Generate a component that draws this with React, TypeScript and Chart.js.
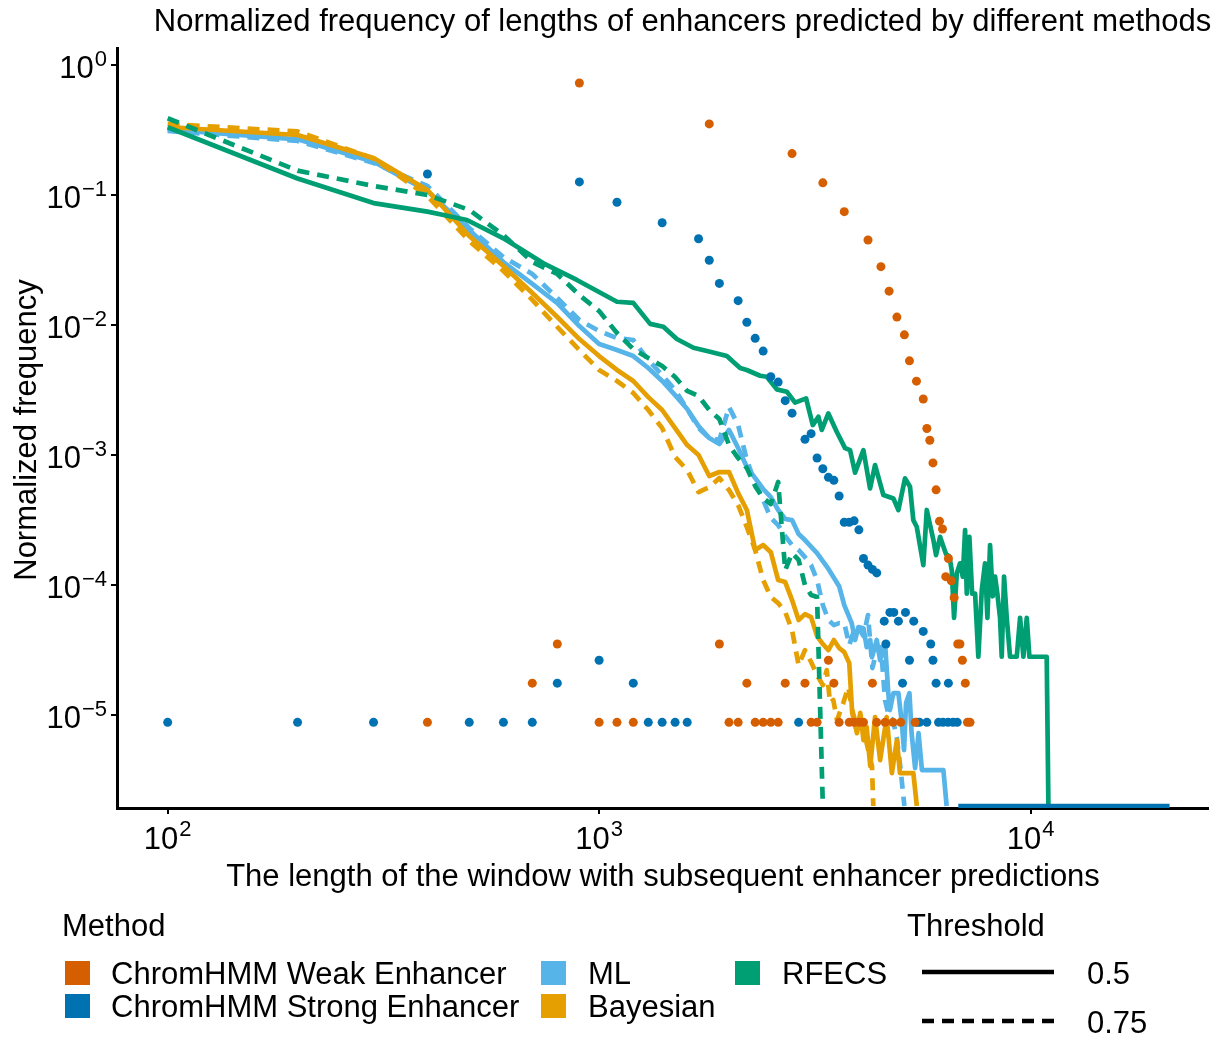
import React, { useEffect, useRef } from "react";
import { Chart, registerables } from "chart.js";

Chart.register(...registerables);

type P = [number, number];

const TITLE = "Normalized frequency of lengths of enhancers predicted by different methods";
const X_TITLE = "The length of the window with subsequent enhancer predictions";
const Y_TITLE = "Normalized frequency";
const LEGEND_METHOD_TITLE = "Method";
const LEGEND_THRESHOLD_TITLE = "Threshold";
const METHOD_LABELS = ["ChromHMM Weak Enhancer", "ChromHMM Strong Enhancer", "ML", "Bayesian", "RFECS"];
const THRESHOLD_LABELS = ["0.5", "0.75"];

const X_TICKS = [100, 1000, 10000];
const X_TICK_EXP = ["2", "3", "4"];
const Y_TICKS = [1, 0.1, 0.01, 0.001, 0.0001, 0.00001];
const Y_TICK_EXP = ["0", "\u22121", "\u22122", "\u22123", "\u22124", "\u22125"];

const X_MIN = 76.3;
const X_MAX = 25780;
const Y_MIN = 1.93e-6;
const Y_MAX = 1.35;
const FLOOR = 2.0e-6; // zero frequencies are drawn at the bottom of the panel

const C_WEAK = "#D55E00";
const C_STRONG = "#0072B2";
const C_ML = "#56B4E9";
const C_BAYES = "#E69F00";
const C_RFECS = "#009E73";

// ChromHMM Weak Enhancer (points)
const CHROMHMM_WEAK: P[] = [
  [900, 0.727], [1800, 0.352], [2800, 0.208], [3300, 0.124], [3700, 0.0744], [4200, 0.0451],
  [4500, 0.0281], [4700, 0.0182], [4900, 0.0115], [5100, 0.0084], [5240, 0.0053], [5440, 0.0037],
  [5640, 0.0027], [5750, 0.0016], [5840, 0.0013], [5940, 0.00087], [6040, 0.00054], [6150, 0.00031],
  [6250, 0.00027], [6360, 0.000116], [6450, 0.00016], [6550, 0.000108], [6650, 0.00008],
  [6780, 3.52e-5], [6860, 3.52e-5], [6950, 2.64e-5], [7060, 1.76e-5], [7140, 8.8e-6], [7240, 8.8e-6],
  [800, 3.52e-5], [1900, 3.52e-5], [3400, 2.64e-5],
  [700, 1.76e-5], [2200, 1.76e-5], [2700, 1.76e-5], [3000, 1.76e-5], [3500, 1.76e-5], [4300, 1.76e-5],
  [400, 8.8e-6], [1000, 8.8e-6], [1100, 8.8e-6], [1200, 8.8e-6], [2000, 8.8e-6], [2100, 8.8e-6],
  [2300, 8.8e-6], [2400, 8.8e-6], [2500, 8.8e-6], [2600, 8.8e-6], [3100, 8.8e-6], [3200, 8.8e-6],
  [3600, 8.8e-6], [3800, 8.8e-6], [3900, 8.8e-6], [4000, 8.8e-6], [4100, 8.8e-6], [4400, 8.8e-6],
  [4600, 8.8e-6], [4800, 8.8e-6], [5000, 8.8e-6], [5400, 8.8e-6],
];

// ChromHMM Strong Enhancer (points)
const CHROMHMM_STRONG: P[] = [
  [400, 0.145], [900, 0.126], [1100, 0.0879], [1400, 0.0612], [1700, 0.0461], [1800, 0.0315],
  [1900, 0.0209], [2100, 0.0154], [2200, 0.0105], [2300, 0.0079], [2400, 0.0063], [2500, 0.004],
  [2600, 0.00364], [2700, 0.00262], [2800, 0.0021], [3000, 0.00132], [3100, 0.00146], [3200, 0.000948],
  [3300, 0.000784], [3400, 0.000674], [3500, 0.000639], [3600, 0.000484], [3700, 0.000304],
  [3800, 0.000304], [3900, 0.000312], [4000, 0.000266], [4100, 0.00016], [4200, 0.0001425],
  [4300, 0.000132], [4400, 0.000124],
  [4720, 6.16e-5], [4820, 6.16e-5], [5130, 6.16e-5], [4580, 5.28e-5], [4940, 5.28e-5], [5360, 5.28e-5],
  [5640, 4.4e-5], [4620, 3.52e-5], [5870, 3.52e-5], [1000, 2.64e-5], [5240, 2.64e-5], [5940, 2.64e-5],
  [800, 1.76e-5], [1200, 1.76e-5], [5050, 1.76e-5], [6040, 1.76e-5], [6450, 1.76e-5],
  [100, 8.8e-6], [200, 8.8e-6], [300, 8.8e-6], [500, 8.8e-6], [600, 8.8e-6], [700, 8.8e-6],
  [1300, 8.8e-6], [1400, 8.8e-6], [1500, 8.8e-6], [1600, 8.8e-6], [2900, 8.8e-6], [5450, 8.8e-6],
  [5530, 8.8e-6], [5750, 8.8e-6], [6120, 8.8e-6], [6270, 8.8e-6], [6440, 8.8e-6], [6610, 8.8e-6],
  [6760, 8.8e-6],
];

// ChromHMM Strong Enhancer zero segment at the bottom of the panel
const CHROMHMM_STRONG_ZERO: P[] = [[6800, 0], [21000, 0]];

const RFECS_05: P[] = [
  [100, 0.332], [200, 0.134], [300, 0.0866], [400, 0.0744], [436, 0.0702], [494, 0.0642], [600, 0.0464],
  [743, 0.0298], [888, 0.0222], [1100, 0.0151], [1200, 0.0148], [1313, 0.0102], [1409, 0.0097],
  [1514, 0.0078], [1654, 0.00669], [1808, 0.00623], [1977, 0.00577], [2122, 0.00467], [2199, 0.00451],
  [2361, 0.00407], [2447, 0.004], [2581, 0.0032], [2723, 0.00307], [2846, 0.00253], [3018, 0.00273],
  [3128, 0.0017], [3223, 0.00197], [3281, 0.00156], [3399, 0.00209], [3554, 0.00151], [3716, 0.00113],
  [3817, 0.00109], [3920, 0.000732], [4098, 0.00109], [4246, 0.000554], [4361, 0.000838],
  [4559, 0.000492], [4809, 0.000464], [4939, 0.000378], [5118, 0.000662], [5255, 0.00057],
  [5349, 0.000316], [5447, 0.000281], [5643, 0.0001425], [5747, 0.000378], [5954, 0.000222],
  [6039, 0.00017], [6170, 0.000235], [6279, 0.000198], [6370, 0.000173], [6483, 0.000166],
  [6567, 0.00013], [6648, 0.000056], [6745, 0.000123], [6864, 0.000147], [6965, 0.000116],
  [7051, 0.000265], [7115, 0.000086], [7214, 0.000235], [7320, 0.000086], [7438, 0.000086],
  [7568, 0.0000281], [7708, 0.0000915], [7844, 0.000147], [7942, 0.000056], [8056, 0.000203],
  [8172, 0.000082], [8273, 0.000116], [8375, 0.000086], [8497, 0.000056], [8574, 0.0000281],
  [8681, 0.000116], [8806, 0.000056], [8963, 0.0000281], [9290, 0.0000281], [9456, 0.000056],
  [9625, 0.0000281], [9800, 0.000056], [9937, 0.0000281], [10900, 0.0000281], [11000, 0],
];

const RFECS_075: P[] = [
  [100, 0.389], [200, 0.1538], [300, 0.1173], [400, 0.1], [500, 0.0767], [600, 0.0492], [700, 0.0305],
  [800, 0.0247], [900, 0.017], [1000, 0.0128], [1100, 0.00868], [1200, 0.00654], [1300, 0.00557],
  [1400, 0.00484], [1500, 0.00398], [1600, 0.00311], [1700, 0.00284], [1800, 0.00222], [1900, 0.00189],
  [2000, 0.001194], [2100, 0.000948], [2200, 0.000794], [2300, 0.000577], [2400, 0.000467],
  [2500, 0.00042], [2600, 0.00062], [2700, 0.00013], [2800, 0.000176], [2900, 0.000156], [3000, 0.0001],
  [3100, 0.0000838], [3200, 0.0000809], [3300, 0],
];

const ML_05: P[] = [
  [100, 0.32], [200, 0.268], [300, 0.1804], [400, 0.1073], [500, 0.0538], [600, 0.0305], [700, 0.0207],
  [800, 0.01476], [900, 0.00982], [1000, 0.00714], [1100, 0.00642], [1200, 0.00577], [1300, 0.00467],
  [1400, 0.00371], [1500, 0.00289], [1600, 0.00226], [1700, 0.00167], [1800, 0.00135], [1900, 0.001215],
  [2000, 0.00156], [2100, 0.001132], [2200, 0.000808], [2300, 0.000665], [2400, 0.000548],
  [2500, 0.000475], [2600, 0.000378], [2700, 0.000322], [2800, 0.000316], [2900, 0.000247],
  [3000, 0.000222], [3200, 0.000176], [3400, 0.000133], [3600, 0.000098], [3700, 0.0000702],
  [3850, 0.000051], [3920, 0.0000378], [3990, 0.0000475], [4100, 0.0000466], [4170, 0.0000333],
  [4250, 0.0000378], [4290, 0.0000279], [4400, 0.0000378], [4480, 0.0000265], [4600, 0.0000358],
  [4680, 0.00001476], [4720, 0.00001093], [4810, 0.00001476], [4940, 0.00001476], [5030, 0.00000868],
  [5090, 0.00000538], [5145, 0.00001237], [5240, 0.00001476], [5300, 0.00000727], [5400, 0.00000391],
  [5500, 0.00000727], [5600, 0.00000378], [6280, 0.00000378], [6390, 0],
];

const ML_075: P[] = [
  [100, 0.311], [200, 0.26], [300, 0.1763], [400, 0.1173], [500, 0.0557], [600, 0.0333], [700, 0.0247],
  [800, 0.01613], [900, 0.01093], [1000, 0.00899], [1100, 0.00794], [1200, 0.00767], [1300, 0.00538],
  [1400, 0.00412], [1500, 0.00316], [1600, 0.00226], [1700, 0.00161], [1800, 0.00135], [1900, 0.001304],
  [2000, 0.00234], [2100, 0.0017], [2200, 0.000915], [2300, 0.000609], [2400, 0.000451],
  [2500, 0.000328], [2600, 0.000289], [2700, 0.000238], [2800, 0.000203], [2900, 0.000186],
  [3000, 0.000164], [3100, 0.0001425], [3200, 0.0001093], [3300, 0.0000702], [3400, 0.0000538],
  [3500, 0.0000492], [3600, 0.000051], [3700, 0.000051], [3800, 0.0000346], [3900, 0.0000451],
  [4000, 0.0000466], [4100, 0.0000405], [4200, 0.0000588], [4300, 0.000023], [4400, 0.0000316],
  [4500, 0.0000333], [4600, 0.00001304], [4700, 0.00000965], [4800, 0.00000915], [4900, 0.00000665],
  [5000, 0.00000378], [5100, 0],
];

const BAYES_05: P[] = [
  [100, 0.3334], [200, 0.2893], [300, 0.1926], [400, 0.1093], [500, 0.0484], [600, 0.0284],
  [700, 0.01763], [800, 0.01152], [900, 0.0078], [1000, 0.00577], [1100, 0.00451], [1200, 0.00371],
  [1300, 0.00279], [1400, 0.00222], [1500, 0.00161], [1600, 0.001194], [1700, 0.001], [1800, 0.00069],
  [1900, 0.00074], [2000, 0.00074], [2100, 0.00051], [2200, 0.000378], [2300, 0.000186],
  [2400, 0.000203], [2500, 0.000179], [2600, 0.0001093], [2700, 0.0001055], [2800, 0.0000767],
  [2900, 0.0000538], [3000, 0.0000598], [3100, 0.0000567], [3200, 0.0000405], [3300, 0.0000352],
  [3400, 0.0000316], [3500, 0.0000378], [3600, 0.0000328], [3700, 0.0000305], [3800, 0.0000251],
  [3860, 0.0000104], [3960, 0.00000727], [4030, 0.0000104], [4100, 0.00000642], [4170, 0.00000809],
  [4250, 0.00000405], [4360, 0.00000965], [4480, 0.00000451], [4640, 0.00000965], [4770, 0.00000358],
  [4900, 0.00000642], [4980, 0.00000358], [5350, 0.00000358], [5450, 0],
];

const BAYES_075: P[] = [
  [100, 0.3517], [200, 0.308], [300, 0.1909], [400, 0.0983], [500, 0.0443], [600, 0.026], [700, 0.0156],
  [800, 0.00965], [900, 0.00642], [1000, 0.00451], [1100, 0.00371], [1200, 0.003], [1300, 0.00222],
  [1400, 0.00161], [1500, 0.000965], [1600, 0.000767], [1700, 0.000519], [1800, 0.000567],
  [1900, 0.000665], [2000, 0.000538], [2100, 0.000412], [2200, 0.000279], [2300, 0.000186],
  [2400, 0.0001093], [2500, 0.0000809], [2600, 0.0000727], [2700, 0.000062], [2800, 0.0000451],
  [2900, 0.0000242], [3000, 0.0000316], [3100, 0.0000256], [3200, 0.0000203], [3300, 0.000017],
  [3370, 0.0000222], [3430, 0.0000124], [3490, 0.00001304], [3560, 0.00000915], [3680, 0.0000124],
  [3780, 0.0000164], [3860, 0.00001093], [3960, 0.00000809], [4060, 0.0000104], [4170, 0.00000609],
  [4290, 0.00000405], [4320, 0],
];

const FONT = '"Liberation Sans", Arial, Helvetica, sans-serif';
const DASH = [12, 8];
const LINE_W = 4.7;

const toPts = (arr: P[]) => arr.map(([x, y]) => ({ x, y: y > 0 ? y : FLOOR }));

const pointSet = (label: string, arr: P[], color: string) => ({
  label,
  data: toPts(arr),
  showLine: false,
  pointRadius: 4.5,
  pointBorderWidth: 0,
  pointBackgroundColor: color,
  backgroundColor: color,
  borderColor: color,
});

const lineSet = (label: string, arr: P[], color: string, dashed: boolean) => ({
  label,
  data: toPts(arr),
  showLine: true,
  pointRadius: 0,
  borderColor: color,
  backgroundColor: color,
  borderWidth: LINE_W,
  borderDash: dashed ? DASH : [],
  borderJoinStyle: "round" as const,
  borderCapStyle: "butt" as const,
  tension: 0,
  fill: false,
});

const textPlugin = {
  id: "ggText",
  afterDraw(chart: any) {
    const ctx: CanvasRenderingContext2D = chart.ctx;
    const xs = chart.scales.x;
    const ys = chart.scales.y;
    ctx.save();
    ctx.fillStyle = "#000";
    ctx.textBaseline = "alphabetic";

    // Titles
    ctx.font = `31px ${FONT}`;
    ctx.textAlign = "center";
    ctx.fillText(TITLE, 682.5, 31);
    ctx.fillText(X_TITLE, 663, 886);
    ctx.save();
    ctx.translate(36, 430);
    ctx.rotate(-Math.PI / 2);
    ctx.fillText(Y_TITLE, 0, 0);
    ctx.restore();

    // Y tick labels 10^k
    Y_TICKS.forEach((v, i) => {
      const py = ys.getPixelForValue(v);
      ctx.textAlign = "right";
      ctx.font = `22px ${FONT}`;
      const ew = ctx.measureText(Y_TICK_EXP[i]).width;
      ctx.fillText(Y_TICK_EXP[i], 107, py + 1);
      ctx.font = `31px ${FONT}`;
      ctx.fillText("10", 107 - ew - 1, py + 13);
    });

    // X tick labels
    X_TICKS.forEach((v, i) => {
      const px = xs.getPixelForValue(v);
      ctx.textAlign = "left";
      ctx.font = `31px ${FONT}`;
      const bw = ctx.measureText("10").width;
      ctx.font = `22px ${FONT}`;
      const ew = ctx.measureText(X_TICK_EXP[i]).width;
      const start = px - (bw + ew + 1) / 2;
      ctx.font = `31px ${FONT}`;
      ctx.fillText("10", start, 849);
      ctx.font = `22px ${FONT}`;
      ctx.fillText(X_TICK_EXP[i], start + bw + 1, 836);
    });

    // Legend: Method
    ctx.textAlign = "left";
    ctx.font = `31px ${FONT}`;
    ctx.fillText(LEGEND_METHOD_TITLE, 62, 936);
    const colors = [C_WEAK, C_STRONG, C_ML, C_BAYES, C_RFECS];
    const keyX = [65, 65, 541, 541, 735];
    const textX = [111, 111, 588, 588, 782];
    const rowY = [973, 1006, 973, 1006, 973];
    METHOD_LABELS.forEach((lab, i) => {
      ctx.fillStyle = colors[i];
      ctx.fillRect(keyX[i], rowY[i] - 12, 25, 24);
      ctx.fillStyle = "#000";
      ctx.fillText(lab, textX[i], rowY[i] + 11);
    });

    // Legend: Threshold
    ctx.fillText(LEGEND_THRESHOLD_TITLE, 907, 936);
    const thrY = [972, 1021];
    THRESHOLD_LABELS.forEach((lab, i) => {
      ctx.strokeStyle = "#000";
      ctx.lineWidth = 4.7;
      ctx.lineCap = "butt";
      ctx.setLineDash(i === 0 ? [] : DASH);
      ctx.beginPath();
      ctx.moveTo(922, thrY[i]);
      ctx.lineTo(1054, thrY[i]);
      ctx.stroke();
      ctx.setLineDash([]);
      ctx.fillText(lab, 1087, thrY[i] + 12);
    });
    ctx.restore();
  },
};

export default function App() {
  const ref = useRef<HTMLCanvasElement | null>(null);
  useEffect(() => {
    if (!ref.current) return;
    const axisCommon = {
      type: "logarithmic" as const,
      ticks: { display: false },
      grid: {
        display: true,
        drawOnChartArea: false,
        drawTicks: true,
        tickLength: 6,
        color: "#000",
        lineWidth: 2,
      },
      border: { display: true, color: "#000", width: 3 },
    };
    const chart = new Chart(ref.current, {
      type: "scatter",
      data: {
        datasets: [
          pointSet(METHOD_LABELS[0], CHROMHMM_WEAK, C_WEAK),
          pointSet(METHOD_LABELS[1], CHROMHMM_STRONG, C_STRONG),
          lineSet(METHOD_LABELS[1] + " zero", CHROMHMM_STRONG_ZERO, C_STRONG, false),
          lineSet("RFECS 0.5", RFECS_05, C_RFECS, false),
          lineSet("RFECS 0.75", RFECS_075, C_RFECS, true),
          lineSet("Bayesian 0.5", BAYES_05, C_BAYES, false),
          lineSet("Bayesian 0.75", BAYES_075, C_BAYES, true),
          lineSet("ML 0.5", ML_05, C_ML, false),
          lineSet("ML 0.75", ML_075, C_ML, true),
        ] as any,
      },
      options: {
        responsive: false,
        maintainAspectRatio: false,
        animation: false,
        layout: { padding: { left: 111, right: 12, top: 48, bottom: 223 } },
        plugins: {
          legend: { display: false },
          tooltip: { enabled: false },
          title: { display: false },
        },
        scales: {
          x: {
            ...axisCommon,
            min: X_MIN,
            max: X_MAX,
            afterBuildTicks: (s: any) => {
              s.ticks = X_TICKS.map((v) => ({ value: v }));
            },
          },
          y: {
            ...axisCommon,
            min: Y_MIN,
            max: Y_MAX,
            afterBuildTicks: (s: any) => {
              s.ticks = Y_TICKS.map((v) => ({ value: v }));
            },
          },
        } as any,
      },
      plugins: [textPlugin],
    });
    return () => chart.destroy();
  }, []);

  return (
    <div style={{ position: "absolute", left: 0, top: 0, width: 1220, height: 1037, background: "#fff" }}>
      <canvas ref={ref} width={1220} height={1037} style={{ display: "block", width: 1220, height: 1037 }} />
    </div>
  );
}
